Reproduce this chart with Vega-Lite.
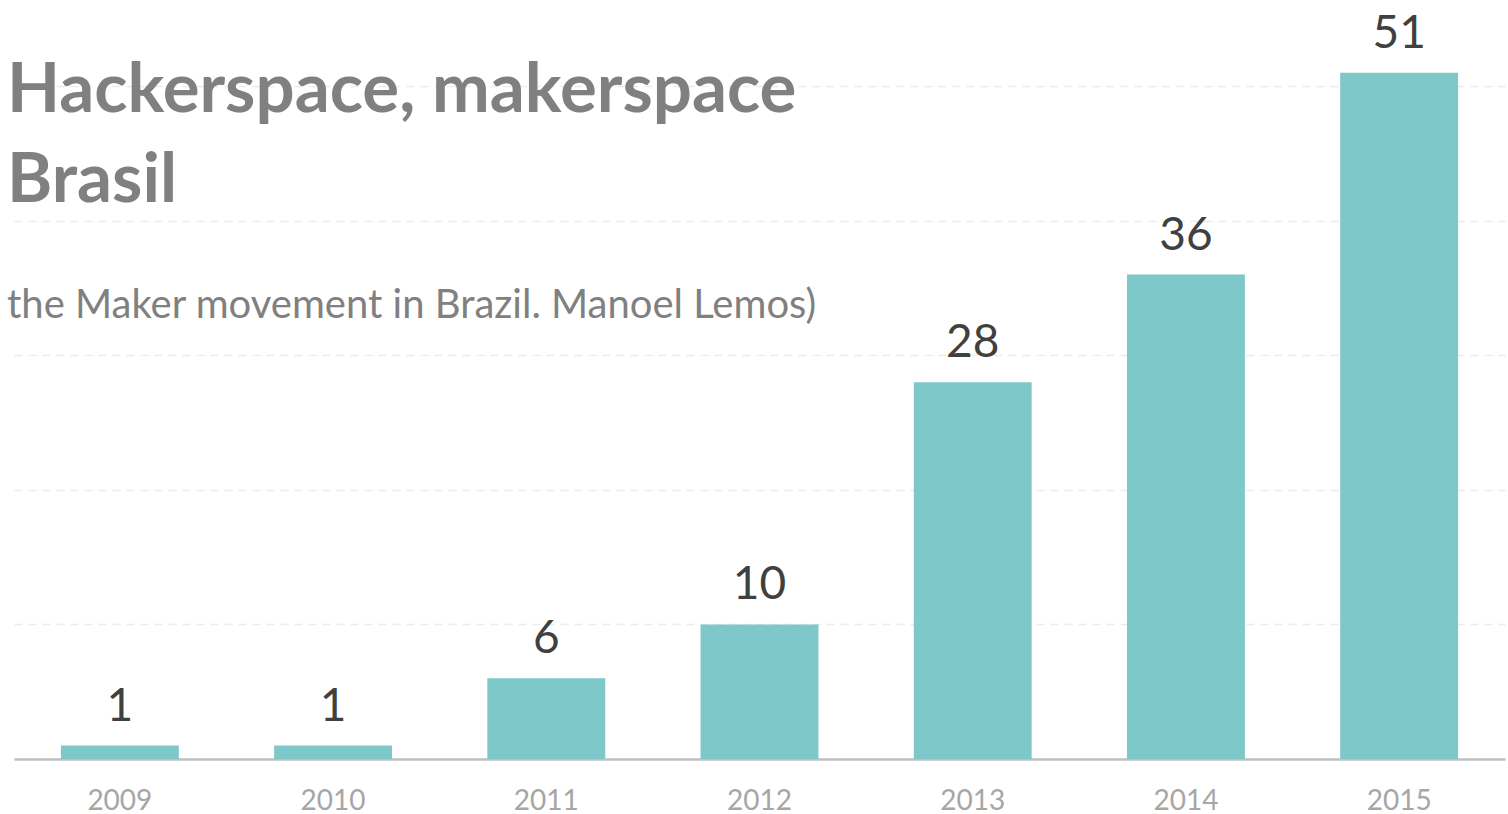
{
  "$schema": "https://vega.github.io/schema/vega-lite/v6.json",
  "autosize": "none",
  "width": 1491,
  "height": 759,
  "padding": {"left": 14, "top": 0, "right": 3, "bottom": 55},
  "background": "white",
  "title": {
    "text": ["Hackerspace, makerspace", "Brasil"],
    "subtitle": "the Maker movement in Brazil. Manoel Lemos)",
    "anchor": "start",
    "frame": "group",
    "orient": "top",
    "offset": -326,
    "dx": -7,
    "font": "Lato",
    "fontSize": 69,
    "fontWeight": "bold",
    "color": "#808080",
    "lineHeight": 90,
    "subtitleFont": "Lato",
    "subtitleFontSize": 40,
    "subtitleColor": "#808080",
    "subtitlePadding": 70
  },
  "data": {
    "values": [
      {"year": "2009", "count": 1},
      {"year": "2010", "count": 1},
      {"year": "2011", "count": 6},
      {"year": "2012", "count": 10},
      {"year": "2013", "count": 28},
      {"year": "2014", "count": 36},
      {"year": "2015", "count": 51}
    ]
  },
  "config": {"view": {"stroke": null}},
  "encoding": {
    "x": {
      "field": "year",
      "type": "ordinal",
      "scale": {"paddingInner": 0.447, "paddingOuter": 0.22},
      "axis": {
        "title": null,
        "labelAngle": 0,
        "labelFont": "Lato",
        "labelFontSize": 28,
        "labelColor": "#a6a6a6",
        "labelPadding": 28,
        "ticks": false,
        "domainColor": "#bfbfbf",
        "domainWidth": 2.5
      }
    },
    "y": {
      "field": "count",
      "type": "quantitative",
      "scale": {"domain": [0, 56.4], "nice": false},
      "axis": {
        "title": null,
        "labels": false,
        "ticks": false,
        "domain": false,
        "values": [10, 20, 30, 40, 50],
        "gridColor": "#ececec",
        "gridDash": [8, 6],
        "gridWidth": 1.5
      }
    }
  },
  "layer": [
    {"mark": {"type": "bar", "color": "#7fc8ca"}},
    {
      "mark": {
        "type": "text",
        "baseline": "alphabetic",
        "dy": -25,
        "font": "Lato",
        "fontSize": 46,
        "color": "#404040"
      },
      "encoding": {"text": {"field": "count", "type": "quantitative"}}
    }
  ]
}
